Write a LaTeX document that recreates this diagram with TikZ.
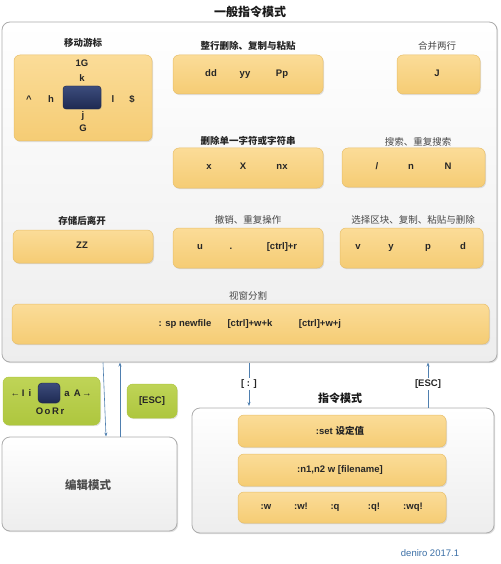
\documentclass[tikz,border=0pt]{standalone}
\usepackage{fontspec}
\setmainfont{Liberation Sans}
\newfontfamily\cjk{Noto Sans CJK SC}
\usetikzlibrary{shadows,arrows.meta}
\definecolor{ytop}{HTML}{FBDC98}
\definecolor{ybot}{HTML}{F5CC74}
\definecolor{yline}{HTML}{E8BF6A}
\definecolor{gtop}{HTML}{BFD457}
\definecolor{gbot}{HTML}{AEC63E}
\definecolor{navyT}{HTML}{3C4C7C}
\definecolor{navyB}{HTML}{1E2A52}
\definecolor{arrblue}{HTML}{4F7FAF}
\definecolor{signc}{HTML}{3A6EA5}
\tikzset{
  panel/.style={draw=gray!65, line width=0.8pt, rounded corners=8pt, top color=white, bottom color=gray!14,
    drop shadow={opacity=0.25, shadow xshift=1.2pt, shadow yshift=-1.2pt}},
  ybox/.style={draw=yline, line width=0.5pt, rounded corners=6pt, top color=ytop, bottom color=ybot,
    drop shadow={opacity=0.22, shadow xshift=1pt, shadow yshift=-1.2pt}, inner sep=0pt},
  gbox/.style={draw=gbot, line width=0.5pt, rounded corners=6pt, top color=gtop, bottom color=gbot,
    drop shadow={opacity=0.22, shadow xshift=1pt, shadow yshift=-1.2pt}, inner sep=0pt},
  navy/.style={draw=navyB!80!black, rounded corners=3pt, top color=navyT, bottom color=navyB, inner sep=0pt,
    drop shadow={opacity=0.3, shadow xshift=0.8pt, shadow yshift=-0.8pt}},
  key/.style={font=\fontsize{9.5}{11}\selectfont\bfseries, text=black!85, inner sep=1pt,
    text height=7pt, text depth=2pt},
  blab/.style={font=\fontsize{9.5}{11}\selectfont\cjk\bfseries, text=black!85, inner sep=1pt},
  slab/.style={font=\fontsize{9.5}{11}\selectfont\cjk, text=black!72, inner sep=1pt},
  arr/.style={draw=arrblue, line width=0.6pt, -{Stealth[length=4pt,width=3pt]}},
  ln/.style={draw=arrblue, line width=0.6pt},
}
\begin{document}
\begin{tikzpicture}[x=1pt,y=-1pt]
\useasboundingbox (0,0) rectangle (500,564);
% main panel
\node[panel, minimum width=495pt, minimum height=340pt] (big) at (249.5,192) {};
\node[font=\fontsize{12}{14}\selectfont\cjk\bfseries, text=black!90] (title) at (250,12) {一般指令模式};

% move cursor
\node[blab] (lmove) at (83,43) {移动游标};
\node[ybox, minimum width=138pt, minimum height=86pt] (move) at (83,98) {};
\node[navy, minimum width=38pt, minimum height=23pt] (cur) at (82,97.5) {};
\node[key] (k1G) at (82,64) {1G};
\node[key] (kk) at (82,79) {k};
\node[key] (kcar) at (29,100) {\^{}};
\node[key] (kh) at (51,100) {h};
\node[key] (kl) at (113,100) {l};
\node[key] (kdol) at (132,100) {\$};
\node[key] (kj) at (83,116) {j};
\node[key] (kG) at (83,129) {G};

% line ops
\node[blab] (lline) at (248,46) {整行删除、复制与粘贴};
\node[ybox, minimum width=150pt, minimum height=39pt] (line) at (248,74.5) {};
\node[key] (kdd) at (211,74) {dd};
\node[key] (kyy) at (245,74) {yy};
\node[key] (kPp) at (282,74) {Pp};

% join
\node[slab] (ljoin) at (437,46) {合并两行};
\node[ybox, minimum width=83pt, minimum height=39pt] (join) at (438.5,74.5) {};
\node[key] (kJ) at (437,74) {J};

% delete char
\node[blab] (ldel) at (248,141) {删除单一字符或字符串};
\node[ybox, minimum width=150pt, minimum height=40pt] (del) at (248,168) {};
\node[key] (kx) at (209,167) {x};
\node[key] (kX) at (243,167) {X};
\node[key] (knx) at (282,167) {nx};

% search
\node[slab] (lsearch) at (418,142) {搜索、重复搜索};
\node[ybox, minimum width=143pt, minimum height=39pt] (search) at (413.5,167.5) {};
\node[key] (kslash) at (377,167) {/};
\node[key] (kn) at (411,167) {n};
\node[key] (kN) at (448,167) {N};

% save quit
\node[blab] (lsave) at (82,221) {存储后离开};
\node[ybox, minimum width=140pt, minimum height=33pt] (save) at (83,246.5) {};
\node[key] (kZZ) at (82,246) {ZZ};

% undo
\node[slab] (lundo) at (248,220) {撤销、重复操作};
\node[ybox, minimum width=150pt, minimum height=40pt] (undo) at (248,248) {};
\node[key] (ku) at (200,247) {u};
\node[key] (kdot) at (231,247) {.};
\node[key] (kcr) at (282,247) {[ctrl]+r};

% visual
\node[slab] (lvis) at (413,220) {选择区块、复制、粘贴与删除};
\node[ybox, minimum width=143pt, minimum height=40pt] (vis) at (411.5,248) {};
\node[key] (kv) at (358,247) {v};
\node[key] (ky) at (391,247) {y};
\node[key] (kp) at (428,247) {p};
\node[key] (kd) at (463,247) {d};

% split
\node[slab] (lsplit) at (248,296) {视窗分割};
\node[ybox, minimum width=477pt, minimum height=40pt] (split) at (250.5,324) {};
\node[key] (ksp) at (185,324) {: sp newfile};
\node[key] (kwk) at (250,324) {[ctrl]+w+k};
\node[key] (kwj) at (320,324) {[ctrl]+w+j};

% insert keys
\node[gbox, minimum width=97pt, minimum height=48pt] (ins) at (51.5,401) {};
\node[navy, minimum width=22pt, minimum height=20pt, rounded corners=4pt] (cur2) at (49,393) {};
\node[key] (kIi) at (21,394) {\textrm{←}\,I\, i};
\node[key] (kaA) at (78,394) {a\, A\,\textrm{→}};
\node[key] (kOoRr) at (50,412) {O\,o\,R\,r};

\node[gbox, minimum width=50pt, minimum height=34pt] (esc1) at (152,401) {};
\node[key] (kesc1) at (152,401) {[ESC]};

% edit mode
\node[panel, minimum width=175pt, minimum height=94pt] (edit) at (89.5,484) {};
\node[font=\fontsize{11.5}{13}\selectfont\cjk\bfseries, text=black!70] (ledit) at (88,485) {编辑模式};

% command mode
\node[panel, minimum width=302pt, minimum height=125pt] (cmd) at (343,470.5) {};
\node[font=\fontsize{11}{13}\selectfont\cjk\bfseries, text=black!90] (lcmd) at (340,398) {指令模式};
\node[ybox, minimum width=208pt, minimum height=32pt] (c1) at (342,431) {};
\node[key] (kset) at (340,432) {:set {\cjk\bfseries 设定值}};
\node[ybox, minimum width=208pt, minimum height=32pt] (c2) at (342,470) {};
\node[key] (kn1) at (340,470) {:n1,n2 w [filename]};
\node[ybox, minimum width=208pt, minimum height=31pt] (c3) at (342,507.5) {};
\node[key] (kw) at (266,507) {:w};
\node[key] (kwx) at (301,507) {:w!};
\node[key] (kq) at (335,507) {:q};
\node[key] (kqx) at (374,507) {:q!};
\node[key] (kwq) at (413,507) {:wq!};

% connectors
\coordinate (d1) at (103,362.5);
\coordinate (d2) at (106,436.5);
\draw[arr] (d1) -- (d2);
\coordinate (u1) at (120,436.5);
\coordinate (u2) at (120,362.5);
\draw[arr] (u1) -- (u2);

\coordinate (cA) at (249,362.5);
\coordinate (cB) at (249,406);
\node[key] (kcolon) at (249,384) {[ : ]};
\draw[ln] (cA) -- (kcolon.north);
\draw[arr] (kcolon.south) -- (cB);

\coordinate (eA) at (428,407.5);
\coordinate (eB) at (428,362.5);
\node[key] (kesc2) at (428,384) {[ESC]};
\draw[ln] (eA) -- (kesc2.south);
\draw[arr] (kesc2.north) -- (eB);

\node[font=\fontsize{9.5}{11}\selectfont, text=signc] (sign) at (430,553) {deniro 2017.1};
\end{tikzpicture}
\end{document}
